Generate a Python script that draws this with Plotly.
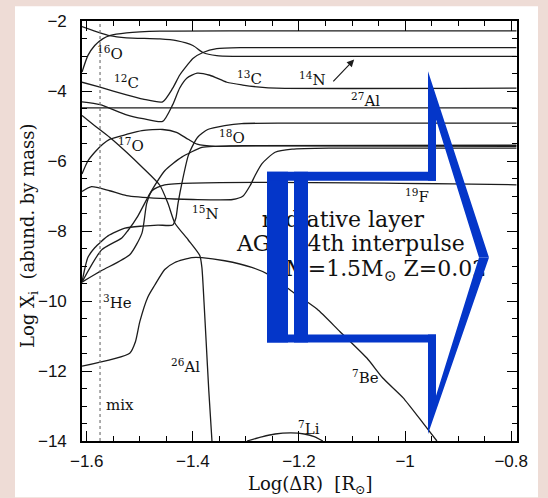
import plotly.graph_objects as go

# ---------------- data ----------------
X_RANGE = [-1.609, -0.789]
Y_RANGE = [-14.0, -2.0]

o16_x = [-1.609, -1.598, -1.585, -1.570, -1.557, -1.525, -1.462, -1.30, -0.79]
o16_y = [-3.46, -2.99, -2.70, -2.51, -2.42, -2.34, -2.29, -2.28, -2.28]

n14_x = [-1.609, -1.575, -1.557, -1.525, -1.462, -1.431, -1.400, -1.381, -1.355, -1.325, -0.79]
n14_y = [-2.16, -2.34, -2.42, -2.48, -2.51, -2.56, -2.70, -2.90, -2.99, -3.01, -3.01]

c12_x = [-1.609, -1.575, -1.525, -1.494, -1.457, -1.438, -1.425, -1.411, -1.400, -1.381, -1.355, -1.306, -0.79]
c12_y = [-3.75, -3.89, -4.11, -4.23, -4.31, -3.92, -3.55, -3.27, -3.07, -2.90, -2.79, -2.76, -2.76]

c13_x = [-1.609, -1.575, -1.525, -1.494, -1.457, -1.438, -1.425, -1.411, -1.392, -1.368, -1.336, -1.306, -1.274, -1.242, -0.79]
c13_y = [-4.31, -4.39, -4.68, -4.79, -4.87, -4.39, -3.92, -3.63, -3.49, -3.55, -3.75, -3.83, -3.89, -3.92, -3.92]

al27_x = [-1.609, -0.79]
al27_y = [-4.48, -4.48]

al26_x = [-1.609, -1.585, -1.557, -1.525, -1.494, -1.462, -1.447, -1.434, -1.409, -1.387, -1.383, -1.379, -1.375, -1.370, -1.364]
al26_y = [-4.70, -4.99, -5.32, -5.75, -6.20, -6.70, -7.21, -7.77, -8.25, -8.70, -9.04, -10.03, -11.15, -12.56, -14.0]

o17_x = [-1.609, -1.598, -1.585, -1.570, -1.557, -1.525, -1.496, -1.457, -1.431, -1.409, -1.392, -1.358, -1.306, -0.79]
o17_y = [-6.37, -6.00, -5.75, -5.52, -5.38, -5.24, -5.13, -5.10, -5.18, -5.38, -5.52, -5.58, -5.56, -5.55]

n15_x = [-1.609, -1.591, -1.557, -1.525, -1.462, -1.400, -1.325, -1.306, -1.292, -1.283, -1.270, -1.245, -1.213, -1.142, -0.79]
n15_y = [-6.87, -6.73, -6.85, -6.99, -7.07, -7.10, -7.10, -7.01, -6.70, -6.42, -6.08, -5.75, -5.66, -5.63, -5.63]

o18_x = [-1.609, -1.598, -1.585, -1.560, -1.528, -1.496, -1.466, -1.438, -1.432, -1.428, -1.419, -1.409, -1.402, -1.391, -1.372, -1.340, -1.308, -1.198, -0.79]
o18_y = [-9.46, -8.76, -8.48, -8.14, -7.92, -7.86, -7.83, -7.83, -7.63, -7.21, -6.51, -5.86, -5.61, -5.32, -5.10, -4.99, -4.93, -4.92, -4.92]

he3_x = [-1.609, -1.572, -1.534, -1.523, -1.504, -1.491, -1.481, -1.453, -1.421, -1.383, -1.358, -0.79]
he3_y = [-9.46, -8.54, -8.20, -8.00, -7.58, -7.21, -6.93, -6.28, -5.89, -5.61, -5.58, -5.58]

f19_x = [-1.609, -1.572, -1.519, -1.496, -1.487, -1.477, -1.453, -0.79]
f19_y = [-9.46, -9.13, -8.68, -8.06, -7.21, -6.85, -6.68, -6.68]

be7_x = [-1.609, -1.519, -1.508, -1.500, -1.485, -1.472, -1.453, -1.434, -1.402, -1.383, -1.340, -1.289, -1.258, -1.211, -1.166, -1.123, -1.072, -1.042, -1.004, -0.966, -0.940]
be7_y = [-11.86, -11.49, -11.15, -10.59, -9.89, -9.55, -9.10, -8.90, -8.76, -8.76, -8.85, -9.04, -9.24, -9.75, -10.23, -10.87, -11.63, -12.20, -12.76, -13.49, -14.0]

li7_x = [-1.298, -1.270, -1.245, -1.215, -1.190, -1.170, -1.155]
li7_y = [-14.0, -13.88, -13.80, -13.77, -13.80, -13.88, -14.0]

mix_x = -1.575

# labels: (text, x, y)
label_text = ["<sup>16</sup>O", "<sup>12</sup>C", "<sup>13</sup>C", "<sup>14</sup>N", "<sup>27</sup>Al",
              "<sup>17</sup>O", "<sup>18</sup>O", "<sup>15</sup>N", "<sup>19</sup>F", "<sup>3</sup>He",
              "<sup>26</sup>Al", "mix", "<sup>7</sup>Be", "<sup>7</sup>Li"]
label_x = [-1.557, -1.526, -1.294, -1.174, -1.074, -1.517, -1.326, -1.377, -0.977, -1.542,
           -1.413, -1.538, -1.074, -1.181]
label_y = [-2.90, -3.75, -3.63, -3.66, -4.25, -5.55, -5.32, -7.49, -6.99, -10.03,
           -11.86, -12.96, -12.17, -13.63]

note_lines = ["radiative layer", "AGB 14th interpulse", "M=1.5M<sub>⊙</sub> Z=0.02"]
note_x = [-1.270, -1.317, -1.226]
note_y = [-7.72, -8.42, -9.13]

n14_arrow_tail = (-1.138, -3.77)
n14_arrow_head = (-1.096, -3.10)

# ---------------- figure ----------------
W, H = 548, 498
ML, MR, MT, MB = 82, 31, 15, 57
PW, PH = W - ML - MR, H - MT - MB
BLUE = "#0436c9"
INK = "#1c1c1c"
SERIF = "DejaVu Serif"

fig = go.Figure()

curves = [
    (o16_x, o16_y, "spline"), (n14_x, n14_y, "spline"), (c12_x, c12_y, "spline"),
    (c13_x, c13_y, "spline"), (al27_x, al27_y, "linear"), (al26_x, al26_y, "spline"),
    (o17_x, o17_y, "spline"), (n15_x, n15_y, "spline"), (o18_x, o18_y, "spline"),
    (he3_x, he3_y, "spline"), (f19_x, f19_y, "spline"), (be7_x, be7_y, "spline"),
    (li7_x, li7_y, "spline"),
]
for cx, cy, shp in curves:
    fig.add_trace(go.Scatter(x=cx, y=cy, mode="lines",
                             line=dict(color=INK, width=1.3, shape=shp, smoothing=0.6),
                             hoverinfo="skip", showlegend=False))

fig.add_trace(go.Scatter(x=[mix_x, mix_x], y=Y_RANGE, mode="lines",
                         line=dict(color="#777777", width=1.2, dash="dot"),
                         hoverinfo="skip", showlegend=False))

fig.add_trace(go.Scatter(x=note_x, y=note_y, mode="text", text=note_lines,
                         textposition="middle right",
                         textfont=dict(family=SERIF, size=22, color="#111111"),
                         hoverinfo="skip", showlegend=False))

for t, lx, ly in zip(label_text, label_x, label_y):
    fig.add_annotation(x=lx, y=ly, text=t, showarrow=False,
                       xanchor="center", yanchor="middle",
                       font=dict(family=SERIF, size=15, color="#111111"))

fig.add_annotation(x=n14_arrow_head[0], y=n14_arrow_head[1],
                   ax=n14_arrow_tail[0], ay=n14_arrow_tail[1],
                   xref="x", yref="y", axref="x", ayref="y", text="",
                   showarrow=True, arrowhead=2, arrowsize=1.2, arrowwidth=1.2,
                   arrowcolor=INK)

# axis titles
fig.add_annotation(xref="paper", yref="paper", x=(310 - ML) / PW, y=(MT + PH - 486) / PH,
                   xanchor="center", yanchor="middle",
                   text="Log(ΔR)  [R<sub>⊙</sub>]", showarrow=False,
                   font=dict(family=SERIF, size=18, color="#111111"))
fig.add_annotation(xref="paper", yref="paper", x=(29 - ML) / PW, y=(MT + PH - 233) / PH,
                   xanchor="center", yanchor="middle",
                   text="Log X<sub>i</sub>  (abund. by mass)", showarrow=False, textangle=-90,
                   font=dict(family=SERIF, size=18, color="#111111"))


# ---- overlay: white slide panel and blue hollow arrow (pixel geometry) ----
def P(px, py):
    return ((px - ML) / PW, (MT + PH - py) / PH)


def rect(x0, y0, x1, y1, color, layer):
    a = P(x0, y1)
    b = P(x1, y0)
    return dict(type="rect", xref="paper", yref="paper", x0=a[0], y0=a[1], x1=b[0], y1=b[1],
                fillcolor=color, line=dict(width=0), layer=layer)


def poly(pts, color):
    path = "M " + " L ".join("%.5f,%.5f" % P(x, y) for x, y in pts) + " Z"
    return dict(type="path", xref="paper", yref="paper", path=path,
                fillcolor=color, line=dict(width=0), layer="above")


shapes = [rect(15, 0, 538, H, "white", "below")]
shapes += [
    rect(267, 168, 288, 341, BLUE, "above"),
    rect(294, 168, 308, 341, BLUE, "above"),
    rect(267, 168, 436, 177, BLUE, "above"),
    rect(267, 333, 436, 341, BLUE, "above"),
    poly([(428, 66), (489, 255), (479, 255), (436, 115), (436, 177), (428, 177)], BLUE),
    poly([(428, 434), (489, 255), (479, 255), (436, 395), (436, 333), (428, 333)], BLUE),
]

axis_common = dict(showline=True, linecolor="black", linewidth=1.6, mirror="allticks",
                   ticks="inside", ticklen=10, tickwidth=1.2, tickcolor="black",
                   showgrid=False, zeroline=False,
                   tickfont=dict(family="Liberation Sans", size=17, color="#111111"))

fig.update_layout(
    width=W, height=H, autosize=False,
    margin=dict(l=ML, r=MR, t=MT, b=MB, pad=0),
    paper_bgcolor="#eedcd6", plot_bgcolor="white",
    shapes=shapes,
    xaxis=dict(range=X_RANGE, tick0=0, dtick=0.2, ticklabelstandoff=4,
               minor=dict(dtick=0.05, ticks="inside", ticklen=5, tickcolor="black", tickwidth=1),
               **axis_common),
    yaxis=dict(range=Y_RANGE, tick0=0, dtick=2, ticklabelstandoff=10,
               minor=dict(dtick=0.5, ticks="inside", ticklen=5, tickcolor="black", tickwidth=1),
               **axis_common),
    showlegend=False,
)

fig.write_html("out.html")
